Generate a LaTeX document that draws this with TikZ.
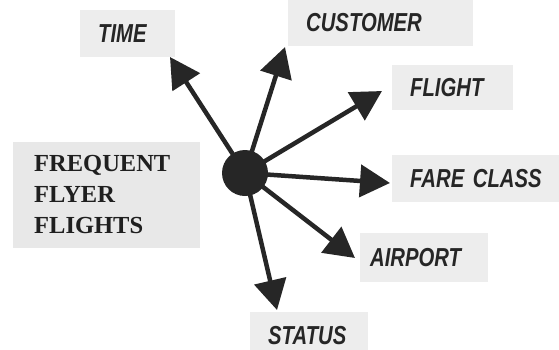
\documentclass[tikz,border=0pt]{standalone}
\usepackage{fontspec}
\newfontfamily\dimfont{Liberation Sans}[FakeStretch=0.78]
\newfontfamily\factfont{Liberation Serif}
\usetikzlibrary{arrows.meta}
\begin{document}
\begin{tikzpicture}[x=1pt, y=-1pt,
		dimbox/.style={anchor=west, fill=black!7, text=black!85, inner xsep=18pt, inner ysep=0pt, align=left, font=\dimfont\bfseries\itshape\fontsize{26}{30}\selectfont},
		spoke/.style={draw=black!85, line width=4.5pt, -{Triangle[length=30pt, width=32pt]}}]
	\useasboundingbox (0,0) rectangle (559,349);
	\node[dimbox, fill=black!9, inner xsep=21pt, text width=145pt, minimum height=106pt, text=black!88, font=\factfont\bfseries\fontsize{24.5}{31}\selectfont] (fact) at (13,195) {FREQUENT\\FLYER\\FLIGHTS};
	\node[dimbox, text width=59pt, minimum height=47pt] (time) at (80,33.5) {TIME};
	\node[dimbox, text width=149pt, minimum height=46pt] (cust) at (288,22.5) {CUSTOMER};
	\node[dimbox, text width=85pt, minimum height=45pt] (flight) at (392,87.5) {FLIGHT};
	\node[dimbox, text width=144pt, minimum height=47pt] (fare) at (392,178.5) {FARE CLASS};
	\node[dimbox, inner xsep=10pt, text width=108pt, minimum height=49pt] (airport) at (360,257.5) {AIRPORT};
	\node[dimbox, text width=82pt, minimum height=48pt] (status) at (250,336) {STATUS};
	\coordinate (tTime) at (170,57);
	\coordinate (tCust) at (285,47);
	\coordinate (tFlight) at (382,91);
	\coordinate (tFare) at (390,183);
	\coordinate (tAirport) at (355,258);
	\coordinate (tStatus) at (277,310);
	\node[circle, fill=black!85, minimum size=46pt, inner sep=0pt] (hub) at (245,173) {};
	\foreach \t in {tTime, tCust, tFlight, tFare, tAirport, tStatus}
		\draw[spoke] (hub.center) -- (\t);
\end{tikzpicture}
\end{document}
